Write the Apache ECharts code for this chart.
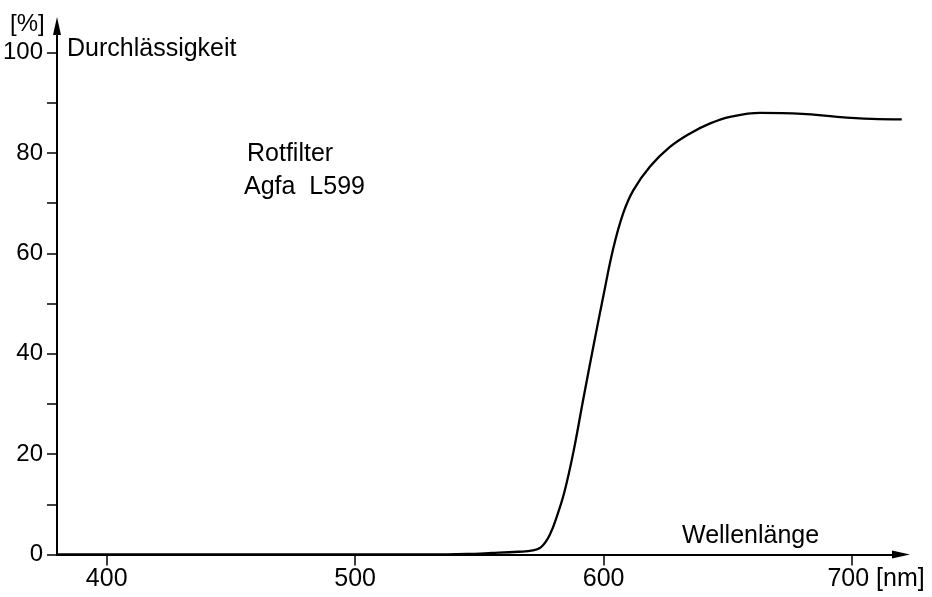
<!DOCTYPE html>
<html>
<head>
<meta charset="utf-8">
<script src="https://cdn.jsdelivr.net/npm/echarts@6/dist/echarts.min.js"></script>
<style>
html,body{margin:0;padding:0;background:#fff;}
#chart{width:932px;height:597px;}
</style>
</head>
<body>
<div id="chart"></div>
<script>
// Wavelength (nm) and transmission (%)
const wavelengths = [380, 400, 450, 500, 530, 545, 555, 565.5, 571.5, 574.9, 578.3, 581.6, 584.3, 587.8, 591.8, 595.9, 599.9, 603.9, 607.9, 612, 618.7, 626.7, 634.8, 642.9, 650.9, 663, 680, 694, 708, 720];
const transmission = [0, 0, 0, 0, 0, 0.1, 0.3, 0.55, 0.8, 1.5, 3.9, 8.2, 12.6, 20.3, 30.9, 41.5, 51.5, 61.0, 68.0, 72.6, 77.3, 81.2, 83.9, 85.9, 87.2, 88.0, 87.8, 87.2, 86.8, 86.7];
const xTicks = [400, 500, 600, 700];
const yTicks = [0, 20, 40, 60, 80, 100];
const yMinorTicks = [10, 30, 50, 70, 90];

const FONT = 'Liberation Sans';
const chart = echarts.init(document.getElementById('chart'));
const seriesData = wavelengths.map((w, i) => [w, transmission[i]]);

chart.setOption({
  backgroundColor: '#fff',
  animation: false,
  grid: { left: 57, right: 31, top: 26, bottom: 42.5, outerBoundsMode: 'none', containLabel: false },
  xAxis: {
    type: 'value', min: 380, max: 719.7,
    axisLine: { lineStyle: { color: '#000', width: 2 }, symbol: ['none', 'triangle'], symbolSize: [8, 18] },
    axisTick: { show: true, inside: false, length: 11, lineStyle: { color: '#000', width: 1.5 }, customValues: xTicks },
    axisLabel: {
      color: '#000', fontFamily: FONT, fontSize: 25, margin: 12, customValues: xTicks,
      formatter: v => v === 700 ? '{sp|}{n|700}{u| [nm]}' : String(v),
      rich: { sp: { width: 48 }, n: { fontFamily: FONT, fontSize: 25, color: '#000' }, u: { fontFamily: FONT, fontSize: 25, color: '#000' } }
    },
    splitLine: { show: false }
  },
  yAxis: {
    type: 'value', min: 0, max: 105.3,
    axisLine: { onZero: false, lineStyle: { color: '#000', width: 2 }, symbol: ['none', 'triangle'], symbolSize: [8, 18] },
    axisTick: { show: true, inside: false, length: 10, lineStyle: { color: '#000', width: 1.5 }, customValues: yTicks.concat(yMinorTicks) },
    axisLabel: { color: '#000', fontFamily: FONT, fontSize: 24, margin: 14, customValues: yTicks },
    splitLine: { show: false }
  },
  graphic: [
    { type: 'text', left: 10, top: 12, style: { text: '[%]', font: '24px ' + FONT, fill: '#000' } },
    { type: 'text', left: 67, top: 37, style: { text: 'Durchlässigkeit', font: '25px ' + FONT, fill: '#000' } },
    { type: 'text', left: 247, top: 142, style: { text: 'Rotfilter', font: '25px ' + FONT, fill: '#000' } },
    { type: 'text', left: 244, top: 175, style: { text: 'Agfa  L599', font: '25px ' + FONT, fill: '#000' } },
    { type: 'text', left: 682, top: 524, style: { text: 'Wellenlänge', font: '25px ' + FONT, fill: '#000' } }
  ],
  series: [{
    type: 'line', data: seriesData, showSymbol: false, smooth: 0.4,
    lineStyle: { color: '#000', width: 2.3 }, silent: true
  }]
});
</script>
</body>
</html>
